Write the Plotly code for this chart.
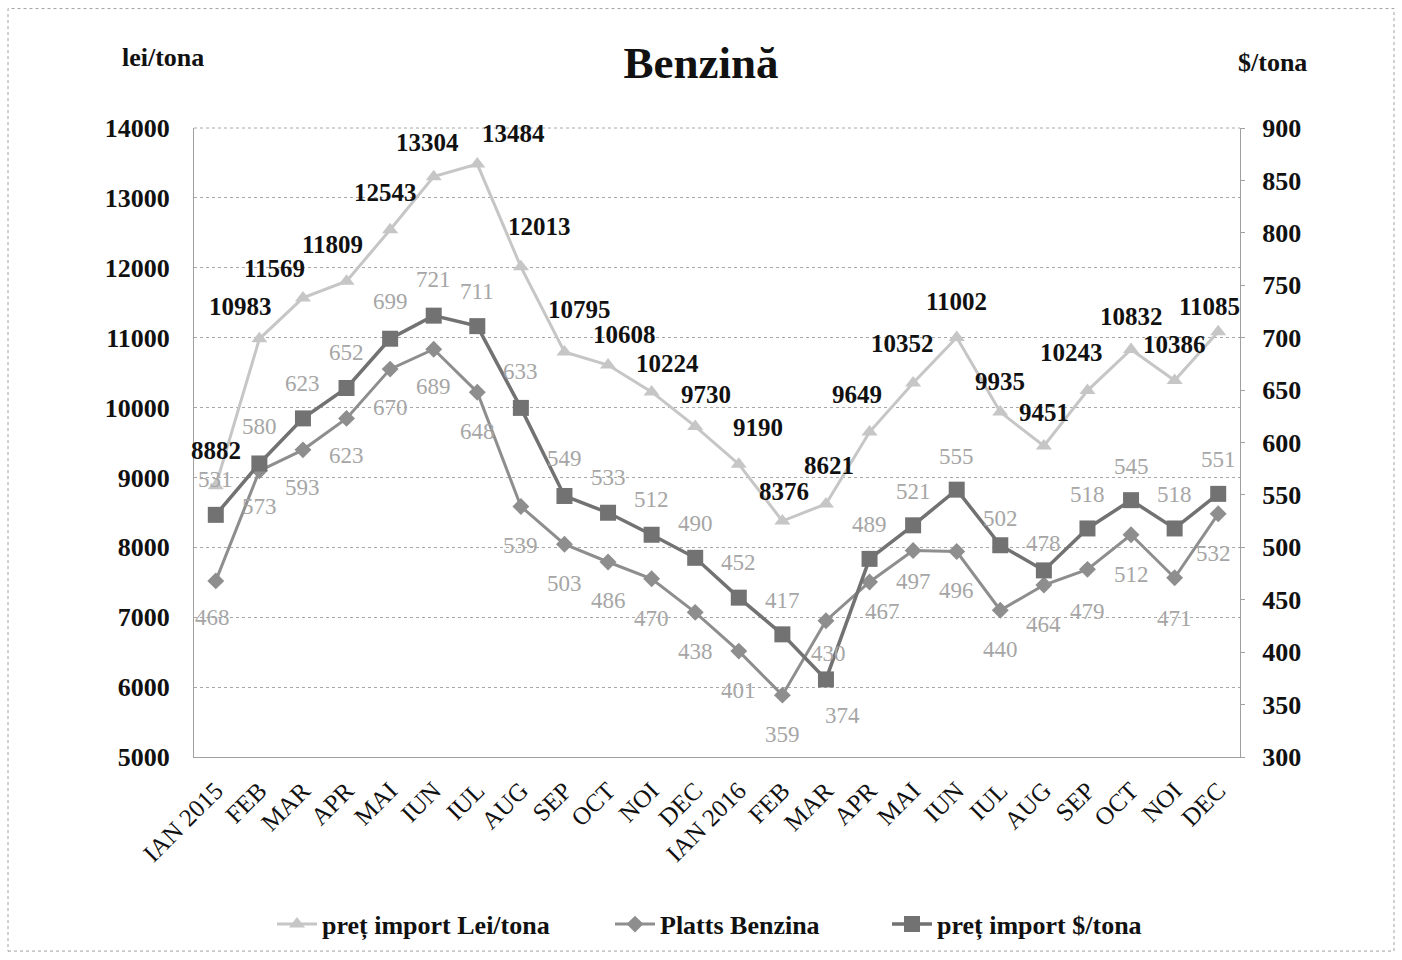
import plotly.graph_objects as go

months = ["IAN 2015", "FEB", "MAR", "APR", "MAI", "IUN", "IUL", "AUG", "SEP", "OCT", "NOI", "DEC",
          "IAN 2016", "FEB", "MAR", "APR", "MAI", "IUN", "IUL", "AUG", "SEP", "OCT", "NOI", "DEC"]
pret_lei = [8882, 10983, 11569, 11809, 12543, 13304, 13484, 12013, 10795, 10608, 10224, 9730,
            9190, 8376, 8621, 9649, 10352, 11002, 9935, 9451, 10243, 10832, 10386, 11085]
platts = [468, 573, 593, 623, 670, 689, 648, 539, 503, 486, 470, 438,
          401, 359, 430, 467, 497, 496, 440, 464, 479, 512, 471, 532]
pret_usd = [531, 580, 623, 652, 699, 721, 711, 633, 549, 533, 512, 490,
            452, 417, 374, 489, 521, 555, 502, 478, 518, 545, 518, 551]

# label offsets in pixels (dx right, dy down) relative to the marker
lei_dx = [0, -19, -28, -14, -5, -6, 36, 19, 15, 16, 16, 11, 19, 2, 3, -13, -11, 0, 0, 0, -16, 0, 0, -9]
lei_dy = [-35, -32, -29, -37, -37, -34, -31, -40, -42, -31, -28, -32, -37, -30, -38, -38, -39, -36,
          -31, -33, -38, -33, -36, -25]
platts_dx = [-3, 0, 0, 0, 0, 0, 0, 0, 0, 0, 0, 0, 0, 0, 3, 13, 0, 0, 0, 0, 0, 0, 0, -5]
platts_dy = [37, 36, 38, 37, 38, 37, 39, 39, 39, 38, 40, 39, 39, 39, 33, 30, 31, 39, 39, 39, 42, 40, 41, 40]
usd_dx = [0] * 14 + [17] + [0] * 9
usd_dy = [-35, -37, -35, -35, -37, -36, -35, -36, -37, -35, -35, -34, -35, -34, 36, -34, -34, -33,
          -27, -27, -34, -34, -34, -34]

FONT = "Liberation Serif, Times New Roman, serif"
LEI_C = "#c6c6c6"
PL_C = "#8e8e8e"
USD_C = "#727272"
LBL_C = "#a6a6a6"
BLACK = "#111111"

xs = list(range(len(months)))

fig = go.Figure()
fig.add_trace(go.Scatter(
    x=xs, y=pret_lei, name="<b>preț import Lei/tona</b>", mode="lines+markers",
    line=dict(color=LEI_C, width=3), marker=dict(symbol="triangle-up", size=14, color=LEI_C),
    yaxis="y", legend="legend"))
fig.add_trace(go.Scatter(
    x=xs, y=platts, name="<b>Platts Benzina</b>", mode="lines+markers",
    line=dict(color=PL_C, width=3), marker=dict(symbol="diamond", size=13, color=PL_C),
    yaxis="y2", legend="legend2"))
fig.add_trace(go.Scatter(
    x=xs, y=pret_usd, name="<b>preț import $/tona</b>", mode="lines+markers",
    line=dict(color=USD_C, width=3.5), marker=dict(symbol="square", size=16, color=USD_C),
    yaxis="y2", legend="legend3"))

for i, v in enumerate(pret_lei):
    fig.add_annotation(x=xs[i], y=v, xref="x", yref="y", text=f"<b>{v}</b>", showarrow=False,
                       xshift=lei_dx[i], yshift=-lei_dy[i],
                       font=dict(family=FONT, size=25, color=BLACK))
for i, v in enumerate(platts):
    fig.add_annotation(x=xs[i], y=v, xref="x", yref="y2", text=str(v), showarrow=False,
                       xshift=platts_dx[i], yshift=-platts_dy[i],
                       font=dict(family=FONT, size=23, color=LBL_C))
for i, v in enumerate(pret_usd):
    fig.add_annotation(x=xs[i], y=v, xref="x", yref="y2", text=str(v), showarrow=False,
                       xshift=usd_dx[i], yshift=-usd_dy[i],
                       font=dict(family=FONT, size=23, color=LBL_C))

L, R, T, B = 194, 1240, 128, 760
W, H = R - L, B - T

tickf = dict(family=FONT, size=26, color=BLACK, weight="bold")
xtickf = dict(family=FONT, size=25, color=BLACK, weight="normal")
legf = dict(family=FONT, size=26, color=BLACK)


def leg(xpix):
    return dict(orientation="h", x=(xpix - L) / W, xanchor="left", y=-(928 - B) / H,
                yanchor="middle", font=legf, bgcolor="rgba(0,0,0,0)", itemwidth=40)


fig.update_layout(
    width=1402, height=960,
    margin=dict(l=L, r=1402 - R, t=T, b=960 - B),
    paper_bgcolor="white", plot_bgcolor="white",
    font=dict(family=FONT, color=BLACK),
    title=dict(text="<b>Benzină</b>", x=0.5, xanchor="center", y=1 - 62 / 960, yanchor="middle",
               font=dict(family=FONT, size=45, color=BLACK)),
    xaxis=dict(range=[-0.5, len(months) - 0.5], tickvals=xs, ticktext=months, tickangle=-45,
               showgrid=False, showline=True, linecolor="#a0a0a0", linewidth=1, ticks="",
               tickfont=xtickf, zeroline=False, ticklabelstandoff=8),
    yaxis=dict(range=[5000, 14000], dtick=1000, tickformat="d", showgrid=True, gridcolor="#a8a8a8",
               griddash="dot", gridwidth=1, showline=True, linecolor="#a0a0a0", ticks="",
               zeroline=False, tickfont=tickf, ticklabelstandoff=18),
    yaxis2=dict(range=[300, 900], dtick=50, tickformat="d", overlaying="y", side="right",
                showgrid=False, showline=True, linecolor="#a0a0a0", ticks="outside", ticklen=4,
                tickcolor="#a0a0a0", zeroline=False, tickfont=tickf, ticklabelstandoff=12),
    legend=leg(272),
    legend2=leg(610),
    legend3=leg(887),
    showlegend=True,
)

fig.add_annotation(text="<b>lei/tona</b>", xref="paper", yref="paper", xanchor="center",
                   yanchor="middle", x=(163 - L) / W, y=(B - 57) / H, showarrow=False,
                   font=dict(family=FONT, size=26, color=BLACK))
fig.add_annotation(text="<b>$/tona</b>", xref="paper", yref="paper", xanchor="center",
                   yanchor="middle", x=(1272 - L) / W, y=(B - 62) / H, showarrow=False,
                   font=dict(family=FONT, size=26, color=BLACK))
fig.add_shape(type="rect", xref="paper", yref="paper",
              x0=(8 - L) / W, x1=(1394 - L) / W, y0=(B - 955) / H, y1=(B - 8) / H,
              line=dict(color="#a0a0a0", width=1, dash="dot"), layer="below")
fig.add_shape(type="line", xref="paper", yref="paper", x0=0, x1=1, y0=1, y1=1,
              line=dict(color="#a8a8a8", width=1, dash="dot"))

fig.write_html("out.html", config={"displayModeBar": False},
               post_script="document.body.style.margin='0px';document.body.style.overflow='hidden';")
